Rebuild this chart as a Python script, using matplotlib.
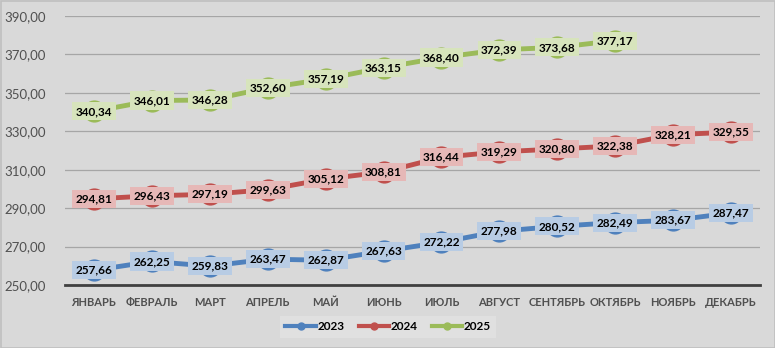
import matplotlib
matplotlib.use("Agg")
import matplotlib.pyplot as plt
from matplotlib.patches import Rectangle
from matplotlib.lines import Line2D

months = ["ЯНВАРЬ", "ФЕВРАЛЬ", "МАРТ", "АПРЕЛЬ", "МАЙ", "ИЮНЬ", "ИЮЛЬ",
          "АВГУСТ", "СЕНТЯБРЬ", "ОКТЯБРЬ", "НОЯБРЬ", "ДЕКАБРЬ"]
v2023 = [257.66, 262.25, 259.83, 263.47, 262.87, 267.63, 272.22, 277.98, 280.52, 282.49, 283.67, 287.47]
v2024 = [294.81, 296.43, 297.19, 299.63, 305.12, 308.81, 316.44, 319.29, 320.80, 322.38, 328.21, 329.55]
v2025 = [340.34, 346.01, 346.28, 352.60, 357.19, 363.15, 368.40, 372.39, 373.68, 377.17]
yticks = [250, 270, 290, 310, 330, 350, 370, 390]

plt.rcParams['font.family'] = ['Lato', 'DejaVu Sans']

bg = '#d9d9d9'
fig = plt.figure(figsize=(7.75, 3.48), dpi=100, facecolor=bg)
fig.patches.append(Rectangle((0.5/775, 0.5/348), 1 - 1/775, 1 - 1/348, transform=fig.transFigure,
                             fill=False, edgecolor='#bfbfbf', linewidth=1.2))
ax = fig.add_axes([65/775, 63/348, 695/775, 269/348])
ax.set_facecolor(bg)

series = [
    ("2023", v2023, '#4f81bd', '#b8cce4'),
    ("2024", v2024, '#c0504d', '#e6b8b7'),
    ("2025", v2025, '#9bbb59', '#d7e4bc'),
]
for name, vals, col, lab in series:
    xs = list(range(len(vals)))
    ax.plot(xs, vals, color=col, linewidth=3.5, marker='o', markersize=16,
            markeredgewidth=0, label=name, zorder=3, solid_capstyle='round')
    for x, v in zip(xs, vals):
        ax.text(x, v, f"{v:.2f}".replace('.', ','), ha='center', va='center',
                fontsize=8.5, fontweight='bold', color='black', zorder=5,
                bbox=dict(boxstyle='square,pad=0.3', facecolor=lab, edgecolor='none'))

ax.set_xlim(-0.5, 11.5)
ax.set_ylim(250, 390)
ax.set_yticks(yticks)
ax.set_yticklabels([f"{t:.2f}".replace('.', ',') for t in yticks])
ax.set_xticks(range(12))
ax.set_xticklabels(months)
ax.tick_params(axis='both', length=0, colors='#505050')
ax.tick_params(axis='x', pad=9, labelsize=8)
ax.tick_params(axis='y', pad=14, labelsize=9.5)
for lbl in ax.get_xticklabels():
    lbl.set_fontweight('bold')
ax.grid(axis='y', color='#a6a6a6', linewidth=0.9, zorder=0)
ax.set_axisbelow(True)
for s in ['top', 'right', 'left']:
    ax.spines[s].set_visible(False)
ax.spines['bottom'].set_color('#404040')
ax.spines['bottom'].set_linewidth(2)
ax.spines['bottom'].set_zorder(2)

labels = [s[0] for s in series]
hs = [Line2D([0], [0], color=c, lw=3, marker='o', markersize=5) for _, _, c, _ in series]
leg = fig.legend(hs, labels, loc='center', bbox_to_anchor=(388/775, 1 - 327/348),
                 ncol=3, frameon=True, fontsize=8.5, handlelength=2.6, columnspacing=1.2,
                 handletextpad=0.1, borderpad=0.45, fancybox=False)
leg.get_frame().set_facecolor('#e3e3e3')
leg.get_frame().set_edgecolor('none')
for t in leg.get_texts():
    t.set_fontweight('bold')

fig.savefig('out.png', dpi=100, facecolor=bg)
